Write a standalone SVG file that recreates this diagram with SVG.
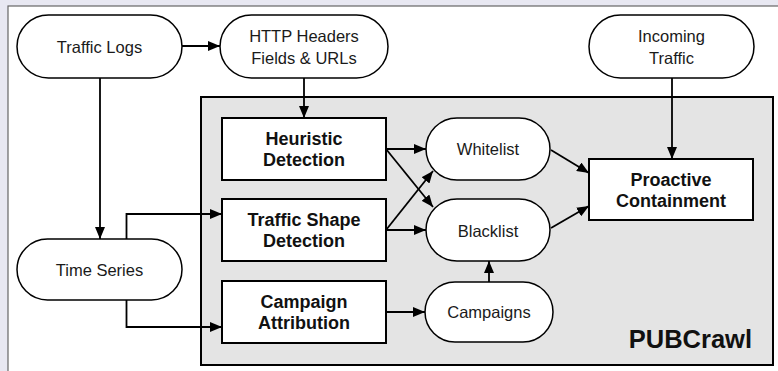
<svg xmlns="http://www.w3.org/2000/svg" width="778" height="371" viewBox="0 0 778 371">
  <defs>
    <marker id="arrow" viewBox="0 0 12 10" refX="12" refY="5" markerWidth="12" markerHeight="10" markerUnits="userSpaceOnUse" orient="auto">
      <path d="M0,0 L12,5 L0,10 Z" fill="#000"/>
    </marker>
    <style>
      .pill { fill: #fff; stroke: #000; stroke-width: 1.5; }
      .box { fill: #fff; stroke: #000; stroke-width: 2; }
      .lbl { font-family: "Liberation Sans", Arial, sans-serif; font-size: 16.5px; fill: #1a1a1a; text-anchor: middle; }
      .blbl { font-family: "Liberation Sans", Arial, sans-serif; font-size: 18px; font-weight: bold; fill: #111; text-anchor: middle; }
      .edge { fill: none; stroke: #000; stroke-width: 1.8; }
    </style>
  </defs>

  <!-- frame -->
  <rect x="0" y="0" width="778" height="371" fill="#e8e8f2"/>
  <rect x="8" y="6" width="775" height="370" fill="#fff" stroke="#666" stroke-width="1.2"/>

  <!-- PUBCrawl container -->
  <g id="pubcrawl">
    <rect x="201" y="97" width="572" height="268" fill="#e4e4e4" stroke="#000" stroke-width="2"/>
    <text x="752" y="348" font-family="'Liberation Sans', Arial, sans-serif" font-size="25.5" font-weight="bold" fill="#111" text-anchor="end">PUBCrawl</text>
  </g>

  <!-- input nodes -->
  <g id="traffic-logs">
    <rect class="pill" x="17" y="15" width="165" height="63" rx="31.5"/>
    <text class="lbl" x="99.5" y="53">Traffic Logs</text>
  </g>
  <g id="http-headers">
    <rect class="pill" x="220" y="15" width="168" height="63" rx="31.5"/>
    <text class="lbl" x="304" y="42">HTTP Headers</text>
    <text class="lbl" x="304" y="64">Fields &amp; URLs</text>
  </g>
  <g id="incoming-traffic">
    <rect class="pill" x="589" y="15" width="165" height="63" rx="31.5"/>
    <text class="lbl" x="671.5" y="42">Incoming</text>
    <text class="lbl" x="671.5" y="64">Traffic</text>
  </g>
  <g id="time-series">
    <rect class="pill" x="17" y="239" width="165" height="61" rx="30.5"/>
    <text class="lbl" x="99.5" y="276">Time Series</text>
  </g>

  <!-- detection stages -->
  <g id="heuristic-detection">
    <rect class="box" x="222" y="118" width="164" height="62"/>
    <text class="blbl" x="304" y="145">Heuristic</text>
    <text class="blbl" x="304" y="166">Detection</text>
  </g>
  <g id="traffic-shape-detection">
    <rect class="box" x="222" y="199" width="164" height="62"/>
    <text class="blbl" x="304" y="226">Traffic Shape</text>
    <text class="blbl" x="304" y="247">Detection</text>
  </g>
  <g id="campaign-attribution">
    <rect class="box" x="222" y="281" width="164" height="62"/>
    <text class="blbl" x="304" y="308">Campaign</text>
    <text class="blbl" x="304" y="328.5">Attribution</text>
  </g>

  <!-- lists -->
  <g id="whitelist">
    <rect class="pill" x="426" y="118" width="124" height="62" rx="31"/>
    <text class="lbl" x="488" y="155">Whitelist</text>
  </g>
  <g id="blacklist">
    <rect class="pill" x="426" y="199" width="124" height="62" rx="31"/>
    <text class="lbl" x="488" y="236.5">Blacklist</text>
  </g>
  <g id="campaigns">
    <rect class="pill" x="425" y="282" width="128" height="60" rx="30"/>
    <text class="lbl" x="489" y="318">Campaigns</text>
  </g>

  <g id="proactive-containment">
    <rect class="box" x="589" y="159" width="164" height="61"/>
    <text class="blbl" x="671" y="186">Proactive</text>
    <text class="blbl" x="671" y="207">Containment</text>
  </g>

  <!-- connectors -->
  <g id="connectors">
    <path class="edge" d="M182,46 H220" marker-end="url(#arrow)"/>
    <path class="edge" d="M100,78 V239" marker-end="url(#arrow)"/>
    <path class="edge" d="M304,78 V118" marker-end="url(#arrow)"/>
    <path class="edge" d="M672,78 V159" marker-end="url(#arrow)"/>
    <path class="edge" d="M126.5,239 V214 H222" marker-end="url(#arrow)"/>
    <path class="edge" d="M126.5,300 V327 H222" marker-end="url(#arrow)"/>
    <path class="edge" d="M386,149 H426" marker-end="url(#arrow)"/>
    <path class="edge" d="M386,149 L433,207" marker-end="url(#arrow)"/>
    <path class="edge" d="M386,230 L433,171" marker-end="url(#arrow)"/>
    <path class="edge" d="M386,230 H426" marker-end="url(#arrow)"/>
    <path class="edge" d="M386,312 H425" marker-end="url(#arrow)"/>
    <path class="edge" d="M489,282 V261" marker-end="url(#arrow)"/>
    <path class="edge" d="M551,150 L589,173" marker-end="url(#arrow)"/>
    <path class="edge" d="M551,228 L589,206" marker-end="url(#arrow)"/>
  </g>
</svg>
